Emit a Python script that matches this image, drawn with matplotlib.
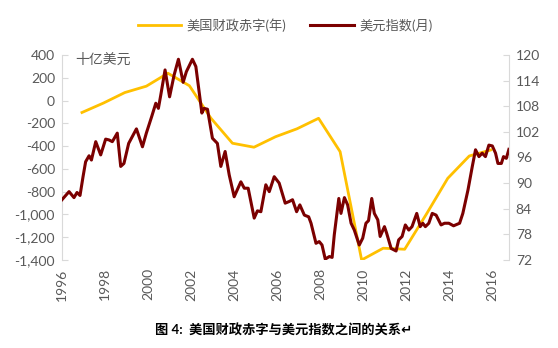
import matplotlib
matplotlib.use("Agg")
import matplotlib.pyplot as plt
from matplotlib.ticker import FuncFormatter

plt.rcParams['font.family'] = ['Lato', 'Noto Sans CJK SC', 'DejaVu Sans']

# 美国财政赤字 (年, 十亿美元), plotted at end of each fiscal year
deficit_x = [1996.93, 1997.93, 1998.92, 1999.92, 2000.92, 2001.92, 2002.92,
             2003.92, 2004.92, 2005.92, 2006.92, 2007.92, 2008.92, 2009.92,
             2010.92, 2011.92, 2012.92, 2013.92, 2014.92, 2015.92]
deficit = [-105, -22, 70, 126, 240, 130, -155, -375, -410, -318, -248, -156,
           -449, -1400, -1297, -1306, -1000, -683, -487, -434]

# 美元指数 (月)
dxy_x = [1996.00, 1996.33, 1996.56, 1996.70, 1996.84, 1996.98, 1997.10, 1997.26,
         1997.37, 1997.57, 1997.80, 1998.03, 1998.19, 1998.34, 1998.57, 1998.73,
         1998.88, 1999.10, 1999.46, 1999.74, 1999.92, 2000.17, 2000.36, 2000.48,
         2000.59, 2000.79, 2001.00, 2001.21, 2001.41, 2001.63, 2001.78, 2002.06,
         2002.22, 2002.50, 2002.60, 2002.76, 2002.99, 2003.22, 2003.38, 2003.58,
         2003.77, 2004.00, 2004.31, 2004.47, 2004.65, 2004.93, 2005.08, 2005.24,
         2005.47, 2005.63, 2005.86, 2006.09, 2006.37, 2006.56, 2006.71, 2006.90,
         2007.05, 2007.26, 2007.46, 2007.57, 2007.80, 2007.95, 2008.08, 2008.23,
         2008.42, 2008.55, 2008.65, 2008.86, 2008.96, 2009.12, 2009.27, 2009.43,
         2009.58, 2009.81, 2009.97, 2010.12, 2010.24, 2010.39, 2010.51, 2010.67,
         2010.78, 2010.98, 2011.08, 2011.29, 2011.52, 2011.64, 2011.80, 2011.95,
         2012.11, 2012.26, 2012.48, 2012.64, 2012.76, 2012.88, 2013.04, 2013.20,
         2013.38, 2013.61, 2013.77, 2013.97, 2014.19, 2014.47, 2014.62, 2014.86,
         2015.06, 2015.21, 2015.37, 2015.52, 2015.67, 2015.83, 2015.99, 2016.14,
         2016.25, 2016.41, 2016.51, 2016.64, 2016.76]
dxy = [86.1, 88.0, 86.6, 87.8, 87.1, 91.5, 95.0, 96.4,
       95.4, 99.7, 96.6, 100.3, 100.1, 99.7, 101.7, 93.9,
       94.6, 99.3, 102.7, 98.5, 101.7, 105.6, 108.7, 107.5,
       110.6, 116.5, 110.2, 115.3, 119.0, 113.6, 116.1, 119.0,
       117.3, 106.4, 107.5, 107.3, 100.5, 99.3, 93.9, 97.4,
       91.9, 86.8, 90.3, 88.8, 88.8, 81.8, 83.5, 83.3,
       89.6, 88.0, 91.5, 90.0, 85.3, 85.7, 86.1, 83.3,
       84.9, 82.5, 82.1, 80.6, 75.9, 76.3, 75.5, 72.2,
       72.8, 72.6, 77.9, 86.4, 82.9, 86.6, 84.9, 80.6,
       79.0, 75.5, 77.1, 80.6, 81.2, 86.4, 82.9, 81.4,
       77.5, 79.8, 78.3, 74.7, 74.1, 76.7, 77.5, 80.2,
       79.0, 79.8, 82.9, 79.8, 80.6, 79.8, 80.6, 82.9,
       82.5, 80.2, 80.6, 80.6, 80.0, 80.6, 82.9, 88.4,
       93.9, 97.8, 96.2, 97.0, 96.2, 98.9, 98.7, 97.0,
       94.6, 94.6, 96.2, 95.8, 97.9]

x_ticks = list(range(1996, 2017, 2))
left_ticks = list(range(-1400, 401, 200))
right_ticks = list(range(72, 121, 6))

grey = '#595959'
axis_grey = '#D9D9D9'

fig = plt.figure(figsize=(5.58, 3.48), dpi=100)
ax = fig.add_axes([0.111, 0.253, 0.801, 0.589])
ax2 = ax.twinx()

l1, = ax.plot(deficit_x, deficit, color='#FFC000', lw=2, label='美国财政赤字(年)')
l2, = ax2.plot(dxy_x, dxy, color='#7B0000', lw=2.2, label='美元指数(月)')

ax.set_xlim(1996.0, 2016.76)
ax.set_ylim(-1400, 400)
ax2.set_ylim(72, 120)
ax.set_yticks(left_ticks)
ax2.set_yticks(right_ticks)
ax.set_xticks(x_ticks)
ax.set_xticklabels([str(y) for y in x_ticks], rotation=90)
ax.yaxis.set_major_formatter(FuncFormatter(lambda v, p: f'{int(v):,}'))

for a in (ax, ax2):
    for s in ('top', 'bottom'):
        a.spines[s].set_visible(False)
    a.spines['left'].set_color(axis_grey)
    a.spines['right'].set_color(axis_grey)
    a.tick_params(axis='y', direction='in', length=4, color=axis_grey,
                  labelsize=10, labelcolor=grey, pad=5)
ax.spines['right'].set_visible(False)
ax2.spines['left'].set_visible(False)
ax.tick_params(axis='x', length=0, labelsize=10, labelcolor=grey, pad=6)

fig.text(75 / 558, 1 - 59 / 348, '十亿美元', fontsize=10, color=grey, va='center')

fig.legend(handles=[l1, l2], loc='center', bbox_to_anchor=(0.511, 0.928), ncol=2,
           frameon=False, fontsize=9.5, handlelength=3.3, columnspacing=1.8,
           handletextpad=0.4, labelcolor=grey)

fig.text(0.509, 0.052, '图 4:  美国财政赤字与美元指数之间的关系↵', fontsize=9.5,
         fontweight='bold', ha='center', va='center', color='black')

fig.savefig('out.png', dpi=100)
